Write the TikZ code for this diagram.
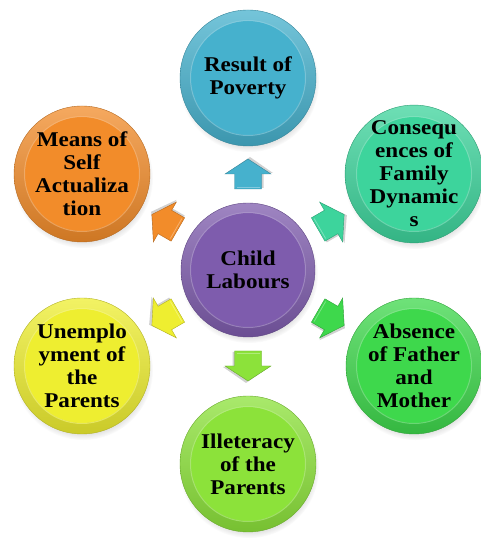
\documentclass[tikz,border=0pt]{standalone}
\usepackage{fontspec}
\setmainfont{Liberation Serif}[FakeStretch=1.1]
\usetikzlibrary{shadows}
\definecolor{cTop}{HTML}{46B1CD}
\definecolor{cTR}{HTML}{3DD49C}
\definecolor{cBR}{HTML}{3ED84C}
\definecolor{cBot}{HTML}{8CE23A}
\definecolor{cBL}{HTML}{EEEE30}
\definecolor{cTL}{HTML}{F28C2A}
\definecolor{cCtr}{HTML}{7E5CAD}
\begin{document}
\begin{tikzpicture}[x=1pt,y=1pt,
  bubble/.style={circle, inner sep=0pt, minimum size=136pt, align=center,
    font=\fontsize{21}{23}\selectfont\bfseries, text=black,
    draw=#1!75!black, line width=0.4pt,
    top color=#1!75!white, bottom color=#1!85!black,
    circular drop shadow={shadow xshift=1pt, shadow yshift=-4pt, shadow scale=1.03, opacity=0.35},
    path picture={
      \fill[#1] (path picture bounding box.center) circle (57pt);
      \draw[#1!60!white, line width=1pt, opacity=0.6] (path picture bounding box.center) circle (57.5pt);
    }},
  arrowshape/.style={fill=#1, draw=#1!75!black, line width=0.4pt}
  ]
\useasboundingbox (0,0) rectangle (480,540);

% arrows
\coordinate (o) at (248,270);
\foreach \ang/\col in {90/cTop,30/cTR,-30/cBR,-90/cBot,-150/cBL,150/cTL}{
  \begin{scope}[shift={(o)}, rotate=\ang]
    \fill[black, opacity=0.18] (82,-15.5) -- (97,-15.5) -- (97,-25) -- (113,-2) -- (97,21) -- (97,11.5) -- (82,11.5) -- cycle;
    \filldraw[arrowshape=\col] (81,-13.5) -- (96,-13.5) -- (96,-23) -- (111,0) -- (96,23) -- (96,13.5) -- (81,13.5) -- cycle;
    \draw[\col!60!white, line width=0.8pt, opacity=0.8] (83,-11.5) -- (83,11.5);
  \end{scope}
}

\node[bubble=cTop] (top) at (248,462) {Result of\\Poverty};
\node[bubble=cTR] (tr) at (414,366) {Consequ\\ences of\\Family\\Dynamic\\s};
\node[bubble=cBR] (br) at (414,174) {Absence\\of Father\\and\\Mother};
\node[bubble=cBot] (bot) at (248,76) {Illeteracy\\of the\\Parents};
\node[bubble=cBL] (bl) at (82,174) {Unemplo\\yment of\\the\\Parents};
\node[bubble=cTL] (tl) at (82,366) {Means of\\Self\\Actualiza\\tion};
\node[bubble=cCtr, minimum size=134pt] (ctr) at (o) {Child\\Labours};
\end{tikzpicture}
\end{document}
